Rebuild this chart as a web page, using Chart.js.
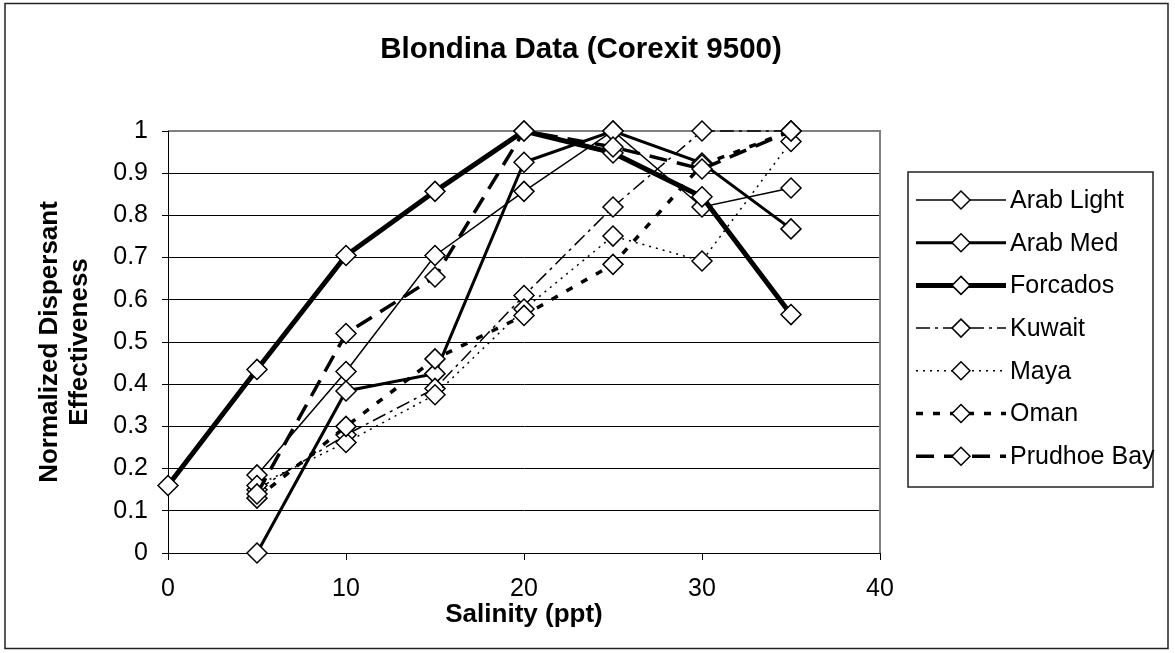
<!DOCTYPE html>
<html>
<head>
<meta charset="utf-8">
<title>Blondina Data (Corexit 9500)</title>
<script src="https://cdn.jsdelivr.net/npm/chart.js@4.4.1/dist/chart.umd.min.js"></script>
<style>
  html, body { margin: 0; padding: 0; background: #fff; }
  #wrap { width: 1175px; height: 653px; }
</style>
</head>
<body>
<div id="wrap"><canvas id="chartBlondina" width="1175" height="653"></canvas></div>
<script>
// salinity (ppt) and normalized effectiveness
const salinity = [0, 5, 10, 15, 20, 25, 30, 35];
const seriesNames = ['Arab Light', 'Arab Med', 'Forcados', 'Kuwait', 'Maya', 'Oman', 'Prudhoe Bay'];
const arabLight = [null, 0.185, 0.43, 0.705, 0.857, 1.0, 0.82, 0.865];
const arabMed = [null, 0, 0.384, 0.425, 0.926, 1.0, 0.924, 0.768];
const forcados = [0.16, 0.435, 0.705, 0.857, 1.0, 0.948, 0.844, 0.565];
const kuwait = [null, 0.15, 0.28, 0.39, 0.61, 0.82, 1.0, 1.0];
const maya = [null, 0.16, 0.262, 0.375, 0.578, 0.751, 0.692, 0.975];
const oman = [null, 0.13, 0.30, 0.46, 0.563, 0.684, 0.92, 1.0];
const prudhoeBay = [null, 0.14, 0.52, 0.654, 1.0, 0.962, 0.91, 1.0];
const xTicks = [0, 10, 20, 30, 40];
const yTicks = [0, 0.1, 0.2, 0.3, 0.4, 0.5, 0.6, 0.7, 0.8, 0.9, 1];

const seriesValues = [arabLight, arabMed, forcados, kuwait, maya, oman, prudhoeBay];

// line look for each crude, same order as seriesNames
const seriesStyles = [
    { width: 1.5, dash: [] },
    { width: 3, dash: [] },
    { width: 5, dash: [] },
    { width: 1.5, dash: [14, 5, 3, 5] },
    { width: 1.5, dash: [2, 5] },
    { width: 3.5, dash: [7, 10] },
    { width: 3.5, dash: [18, 10] }
];

const FONT = "'Liberation Sans', Arial, sans-serif";
Chart.defaults.font.family = FONT;
Chart.defaults.color = '#000';

const datasets = seriesNames.map((name, i) => ({
    label: name,
    data: salinity.map((s, j) => ({ x: s, y: seriesValues[i][j] })).filter(p => p.y !== null),
    borderColor: '#000',
    borderWidth: seriesStyles[i].width,
    borderDash: seriesStyles[i].dash,
    pointStyle: 'rectRot',
    pointRadius: 10,
    pointBorderWidth: 1.5,
    pointBackgroundColor: '#fff',
    pointBorderColor: '#000',
    fill: false,
    tension: 0,
    clip: false,
    order: seriesNames.length - i
}));

const decor = {
    id: 'decor',
    beforeDraw(chart) {
        const ctx = chart.ctx;
        ctx.save();
        ctx.fillStyle = '#fff';
        ctx.fillRect(0, 0, chart.width, chart.height);
        ctx.restore();
    },
    beforeDatasetsDraw(chart) {
        const ctx = chart.ctx;
        const a = chart.chartArea;
        ctx.save();
        ctx.strokeStyle = '#808080';
        ctx.lineWidth = 2;
        ctx.beginPath();
        ctx.moveTo(a.left, a.top);
        ctx.lineTo(a.right, a.top);
        ctx.lineTo(a.right, a.bottom);
        ctx.stroke();
        ctx.strokeStyle = '#000';
        ctx.lineWidth = 1;
        ctx.beginPath();
        ctx.moveTo(a.left + 0.5, a.top);
        ctx.lineTo(a.left + 0.5, a.bottom);
        ctx.stroke();
        ctx.restore();
    },
    afterDraw(chart) {
        const ctx = chart.ctx;
        ctx.save();
        // outer frame
        ctx.strokeStyle = '#222';
        ctx.lineWidth = 1.5;
        ctx.strokeRect(5, 3.5, 1163, 645);

        // title
        ctx.fillStyle = '#000';
        ctx.font = 'bold 29.5px ' + FONT;
        ctx.textAlign = 'center';
        ctx.textBaseline = 'middle';
        ctx.fillText('Blondina Data (Corexit 9500)', 581, 50);

        // legend box
        const box = { left: 908, top: 172, width: 245, height: 315 };
        ctx.strokeStyle = '#222';
        ctx.lineWidth = 1.5;
        ctx.strokeRect(box.left, box.top, box.width, box.height);

        ctx.font = '25px ' + FONT;
        ctx.textAlign = 'left';
        chart.data.datasets.forEach((ds, i) => {
            const cy = box.top + 28 + i * 42.7;
            ctx.strokeStyle = '#000';
            ctx.lineWidth = ds.borderWidth;
            ctx.setLineDash(ds.borderDash);
            ctx.beginPath();
            ctx.moveTo(916, cy);
            ctx.lineTo(1006, cy);
            ctx.stroke();
            ctx.setLineDash([]);
            const r = 9;
            const cx = 961;
            ctx.beginPath();
            ctx.moveTo(cx, cy - r);
            ctx.lineTo(cx + r, cy);
            ctx.lineTo(cx, cy + r);
            ctx.lineTo(cx - r, cy);
            ctx.closePath();
            ctx.fillStyle = '#fff';
            ctx.fill();
            ctx.lineWidth = 1.5;
            ctx.stroke();
            ctx.fillStyle = '#000';
            ctx.fillText(ds.label, 1010, cy + 1);
        });
        ctx.restore();
    }
};

const ctx = document.getElementById('chartBlondina').getContext('2d');
new Chart(ctx, {
    type: 'line',
    data: { datasets: datasets },
    options: {
        responsive: false,
        animation: false,
        layout: { padding: { left: 8, top: 131, right: 295, bottom: 8 } },
        plugins: {
            legend: { display: false },
            title: { display: false },
            tooltip: { enabled: false }
        },
        scales: {
            x: {
                type: 'linear',
                min: 0,
                max: 40,
                afterBuildTicks: axis => { axis.ticks = xTicks.map(v => ({ value: v })); },
                afterFit: scale => { scale.height = 92; },
                grid: { drawOnChartArea: false, tickLength: 7, color: '#000', lineWidth: 1 },
                border: { color: '#000', width: 1 },
                ticks: { font: { size: 25 }, padding: 14, maxRotation: 0 },
                title: {
                    display: true,
                    text: 'Salinity (ppt)',
                    font: { size: 26, weight: 'bold' },
                    padding: { top: 0, bottom: 15 }
                }
            },
            y: {
                min: 0,
                max: 1,
                afterBuildTicks: axis => { axis.ticks = yTicks.map(v => ({ value: v })); },
                afterFit: scale => { scale.width = 160; },
                grid: { color: '#000', lineWidth: 1, tickLength: 6 },
                border: { color: '#000', width: 1 },
                ticks: {
                    font: { size: 25 },
                    padding: 14,
                    callback: v => String(Math.round(v * 10) / 10)
                },
                title: {
                    display: true,
                    text: ['Normalized Dispersant', 'Effectiveness'],
                    font: { size: 26, weight: 'bold', lineHeight: 1.15 },
                    padding: { top: 27, bottom: 0 }
                }
            }
        }
    },
    plugins: [decor]
});
</script>
</body>
</html>
